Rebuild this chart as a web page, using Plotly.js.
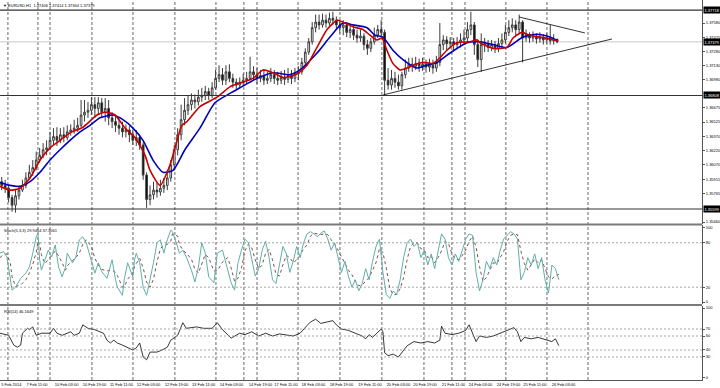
<!DOCTYPE html>
<html><head><meta charset="utf-8">
<script src="https://cdn.plot.ly/plotly-3.0.1.min.js"></script>
<style>html,body{margin:0;padding:0;background:#fff}#c{width:720px;height:388px}</style>
</head><body><div id="c"></div>
<script>
// ---- price candles (2-hour sampling of EURUSD H1) ----
const candleOpen = [1.3589,1.3585,1.3582,1.3572,1.3564,1.3574,1.3580,1.3585,1.3593,1.3599,1.3604,1.3612,1.3617,1.3623,1.3625,1.3633,1.3637,1.3633,1.3639,1.3636,
1.3642,1.3644,1.3646,1.3649,1.3660,1.3663,1.3665,1.3671,1.3667,1.3673,1.3663,1.3667,1.3657,1.3653,1.3649,1.3646,1.3642,1.3644,1.3639,1.3633,
1.3636,1.3628,1.3596,1.3570,1.3575,1.3580,1.3578,1.3582,1.3585,1.3593,1.3607,1.3623,1.3639,1.3655,1.3665,1.3671,1.3676,1.3674,1.3679,1.3681,
1.3685,1.3681,1.3689,1.3699,1.3703,1.3697,1.3706,1.3699,1.3695,1.3692,1.3695,1.3697,1.3699,1.3706,1.3703,1.3699,1.3702,1.3697,1.3699,1.3703,
1.3699,1.3697,1.3700,1.3698,1.3702,1.3699,1.3704,1.3706,1.3716,1.3727,1.3738,1.3753,1.3759,1.3756,1.3761,1.3758,1.3763,1.3761,1.3756,1.3753,
1.3756,1.3748,1.3751,1.3745,1.3742,1.3744,1.3735,1.3731,1.3738,1.3745,1.3751,1.3748,1.3697,1.3692,1.3699,1.3695,1.3691,1.3703,1.3710,1.3714,
1.3712,1.3715,1.3712,1.3714,1.3711,1.3713,1.3710,1.3716,1.3735,1.3740,1.3736,1.3738,1.3735,1.3737,1.3740,1.3742,1.3751,1.3756,1.3735,1.3719,
1.3735,1.3736,1.3732,1.3735,1.3731,1.3736,1.3740,1.3748,1.3753,1.3756,1.3751,1.3759,1.3742,1.3746,1.3742,1.3744,1.3741,1.3743,1.3740,1.3742,
1.3739,1.37406];
const candleHigh = [1.3594,1.3591,1.3585,1.3575,1.3580,1.3585,1.3591,1.3599,1.3607,1.3612,1.3621,1.3625,1.3630,1.3633,1.3642,1.3646,1.3647,1.3646,1.3647,1.3649,
1.3650,1.3655,1.3657,1.3676,1.3676,1.3674,1.3679,1.3679,1.3679,1.3678,1.3678,1.3676,1.3663,1.3660,1.3655,1.3653,1.3650,1.3648,1.3644,1.3644,
1.3639,1.3631,1.3599,1.3585,1.3589,1.3588,1.3591,1.3593,1.3601,1.3612,1.3628,1.3646,1.3671,1.3678,1.3681,1.3683,1.3682,1.3687,1.3689,1.3691,
1.3689,1.3695,1.3708,1.3713,1.3710,1.3713,1.3714,1.3704,1.3699,1.3700,1.3704,1.3706,1.3722,1.3712,1.3710,1.3708,1.3708,1.3706,1.3710,1.3708,
1.3706,1.3707,1.3708,1.3710,1.3708,1.3710,1.3712,1.3721,1.3731,1.3742,1.3759,1.3767,1.3767,1.3768,1.3767,1.3769,1.3770,1.3765,1.3761,1.3761,
1.3759,1.3756,1.3754,1.3751,1.3751,1.3747,1.3740,1.3742,1.3753,1.3756,1.3761,1.3751,1.3710,1.3708,1.3706,1.3703,1.3706,1.3719,1.3721,1.3721,
1.3722,1.3720,1.3721,1.3719,1.3720,1.3719,1.3723,1.3758,1.3745,1.3744,1.3743,1.3742,1.3743,1.3747,1.3751,1.3759,1.3770,1.3759,1.3740,1.3747,
1.3742,1.3740,1.3740,1.3739,1.3742,1.3747,1.3756,1.3761,1.3763,1.3761,1.3767,1.3761,1.3751,1.3748,1.3749,1.3747,1.3748,1.3746,1.3747,1.3756,
1.3746,1.37414];
const candleLow = [1.3580,1.3577,1.3567,1.3557,1.3556,1.3570,1.3578,1.3582,1.3591,1.3595,1.3601,1.3609,1.3614,1.3617,1.3623,1.3628,1.3627,1.3630,1.3631,1.3633,
1.3638,1.3640,1.3642,1.3647,1.3653,1.3657,1.3660,1.3657,1.3660,1.3657,1.3653,1.3649,1.3646,1.3642,1.3639,1.3636,1.3636,1.3631,1.3628,1.3627,
1.3623,1.3591,1.3561,1.3564,1.3570,1.3572,1.3574,1.3577,1.3580,1.3589,1.3601,1.3617,1.3633,1.3649,1.3660,1.3665,1.3667,1.3670,1.3674,1.3676,
1.3676,1.3678,1.3687,1.3695,1.3692,1.3692,1.3695,1.3689,1.3687,1.3689,1.3691,1.3693,1.3697,1.3697,1.3693,1.3695,1.3692,1.3693,1.3695,1.3693,
1.3692,1.3693,1.3692,1.3694,1.3693,1.3695,1.3697,1.3703,1.3713,1.3724,1.3735,1.3748,1.3751,1.3753,1.3753,1.3755,1.3756,1.3751,1.3747,1.3745,
1.3743,1.3742,1.3740,1.3737,1.3738,1.3729,1.3724,1.3727,1.3735,1.3742,1.3744,1.3681,1.3687,1.3687,1.3689,1.3687,1.3687,1.3699,1.3706,1.3706,
1.3708,1.3706,1.3707,1.3705,1.3706,1.3704,1.3706,1.3712,1.3729,1.3729,1.3731,1.3729,1.3730,1.3732,1.3735,1.3738,1.3745,1.3724,1.3711,1.3706,
1.3727,1.3727,1.3728,1.3726,1.3727,1.3731,1.3736,1.3744,1.3748,1.3745,1.3746,1.3716,1.3738,1.3737,1.3738,1.3736,1.3737,1.3735,1.3736,1.3735,
1.3735,1.37364];
const candleClose = [1.3585,1.3582,1.3572,1.3564,1.3574,1.3580,1.3585,1.3593,1.3599,1.3604,1.3612,1.3617,1.3623,1.3625,1.3633,1.3637,1.3633,1.3639,1.3636,1.3642,
1.3644,1.3646,1.3649,1.3660,1.3663,1.3665,1.3671,1.3667,1.3673,1.3663,1.3667,1.3657,1.3653,1.3649,1.3646,1.3642,1.3644,1.3639,1.3633,1.3636,
1.3628,1.3596,1.3570,1.3575,1.3580,1.3578,1.3582,1.3585,1.3593,1.3607,1.3623,1.3639,1.3655,1.3665,1.3671,1.3676,1.3674,1.3679,1.3681,1.3685,
1.3681,1.3689,1.3699,1.3703,1.3697,1.3706,1.3699,1.3695,1.3692,1.3695,1.3697,1.3699,1.3706,1.3703,1.3699,1.3702,1.3697,1.3699,1.3703,1.3699,
1.3697,1.3700,1.3698,1.3702,1.3699,1.3704,1.3706,1.3716,1.3727,1.3738,1.3753,1.3759,1.3756,1.3761,1.3758,1.3763,1.3761,1.3756,1.3753,1.3756,
1.3748,1.3751,1.3745,1.3742,1.3744,1.3735,1.3731,1.3738,1.3745,1.3751,1.3748,1.3697,1.3692,1.3699,1.3695,1.3691,1.3703,1.3710,1.3714,1.3712,
1.3715,1.3712,1.3714,1.3711,1.3713,1.3710,1.3716,1.3735,1.3740,1.3736,1.3738,1.3735,1.3737,1.3740,1.3742,1.3751,1.3756,1.3735,1.3719,1.3735,
1.3736,1.3732,1.3735,1.3731,1.3736,1.3740,1.3748,1.3753,1.3756,1.3751,1.3759,1.3742,1.3746,1.3742,1.3744,1.3741,1.3743,1.3740,1.3742,1.3739,
1.3741,1.37379];

// ---- moving averages (red = fast, blue = slow) ----
const maRedX = [0,5.8,11.6,17.4,23.2,29,34.8,40.6,48.1,56.2,60.9,66.7,72.5,78.3,84.1,87,92.8,98.6,105.5,108.4,115.9,125.8,133.3,139.1,146.7,152.5,158.3,164.1,169.9,173.9,178,183.8,189.6,195.4,198.8,204.6,210.4,214.5,218.6,221.4,224.3,227.8,231.9,235.9,239.4,245.2,251,255.1,259.1,264.9,272.5,276.5,278.3,285.8,293.9,297.4,302.6,307.2,313,318.8,323.5];
const maRedY = [1.3584,1.3580,1.3582,1.3593,1.3612,1.3625,1.3633,1.3641,1.3647,1.3660,1.3663,1.3660,1.3646,1.3636,1.3617,1.3601,1.3585,1.3607,1.3649,1.3653,1.3669,1.3679,1.3690,1.3694,1.3699,1.3708,1.3705,1.3700,1.3702,1.3706,1.3713,1.3732,1.3751,1.3761,1.3759,1.3754,1.3751,1.3745,1.3740,1.3742,1.3729,1.3715,1.3708,1.3710,1.3713,1.3716,1.3715,1.3721,1.3729,1.3737,1.3738,1.3740,1.3737,1.3731,1.3732,1.3742,1.3748,1.3745,1.3743,1.3741,1.3739];
const maBlueX = [0,5.8,11.6,17.4,23.2,29,34.8,40.6,46.4,52.2,58,65.5,71.3,77.1,82.9,88.7,94.5,100.3,107.2,115.9,124.6,133.3,139.1,149,158.3,168.1,173.9,183.8,191.3,198.8,204.6,212.8,217.4,222,227.8,233.6,241.7,247.5,253.3,260.9,270.7,278.3,285.8,293.9,303.2,311.3,318.8,323.5];
const maBlueY = [1.3588,1.3585,1.3584,1.3589,1.3599,1.3612,1.3623,1.3633,1.3642,1.3649,1.3657,1.3660,1.3655,1.3646,1.3633,1.3612,1.3599,1.3601,1.3623,1.3646,1.3673,1.3683,1.3689,1.3699,1.3705,1.3703,1.3708,1.3726,1.3743,1.3758,1.3756,1.3753,1.3745,1.3743,1.3729,1.3719,1.3710,1.3713,1.3716,1.3726,1.3737,1.3738,1.3735,1.3732,1.3743,1.3746,1.3743,1.3739];

// ---- Stochastic (5,3,3) ----
const stochX = [0,2,4,6,7,9,12,15,17,19,21,22,23,24,26,28,30,32,34,36,38,39,42,44,46,48,50,53,55,57,59,62,65,67,68,71,72,74,77,78,79,81,83,85,87,89,91,93,95,97,99,100,103,104,106,108,111,113,115,117,119,121,124,126,129,132,134,136,138,
140,142,144,146,148,150,152,154,156,158,160,162,164,166,168,170,172,174,176,178,180,182,184,186,188,190,192,194,196,198,200,202,204,206,208,210,212,214,216,218,220,222,224,226,228,230,232,234,236,238,240,242,244,246,248,250,252,254,256,258,260,262,264,266,268,270,272,274,276,278,280,282,284,286,288,290,292,294,296,298,300,302,304,306,308,310,312,314,316,318,320,322,324];
const stochMain = [66,68,61,26,16,20,32,39,47,66,88,93,57,43,57,70,61,77,47,34,47,66,53,61,84,88,80,57,39,53,41,32,57,30,20,9,30,53,34,57,66,53,20,9,30,53,80,84,66,84,97,95,74,66,70,61,43,27,47,80,66,34,26,66,70,43,26,16,53,
70,85,80,55,35,45,70,82,60,30,25,50,75,65,40,55,75,60,80,92,95,92,88,93,96,85,70,80,60,40,55,35,20,30,15,25,45,30,55,75,85,40,10,5,15,10,30,60,80,85,75,80,60,70,50,65,45,70,92,85,60,50,65,55,70,85,92,90,40,15,30,55,45,60,50,70,85,90,95,92,85,30,40,60,50,65,45,60,30,12,50,45,29.95];
const stochSignal = [60,64,65,52,34,21,23,30,39,51,67,82,79,64,52,57,63,69,62,53,43,49,55,60,66,78,84,75,59,50,44,42,43,40,36,20,20,31,39,48,52,59,46,27,20,31,54,72,77,78,82,92,89,78,70,66,58,44,39,51,64,60,42,42,54,60,46,28,32,
46,69,78,73,57,45,50,66,71,57,38,35,50,63,60,53,57,63,72,77,89,93,92,91,92,91,84,78,70,60,52,43,37,28,22,23,28,33,43,53,72,67,45,18,10,10,18,33,57,75,80,80,72,70,60,62,53,60,69,82,79,65,58,57,63,70,82,89,74,48,28,33,43,53,52,60,68,82,90,92,91,69,52,43,50,58,53,57,45,34,31,36,37.31];

// ---- RSI(14) ----
const rsiX = [0,5,8,10,12,13,16,17,19,21,24,29,31,33,36,39,41,43,46,48,51,55,58,60,62,64,66,68,71,74,77,79,81,83,85,87,91,94,97,99,103,106,108,114,118,123,126,129,132,134,139,
142,146,150,154,158,162,166,170,174,176,178,180,183,186,190,193,195,198,202,206,210,212,214,216,219,221,222,223,225,228,231,233,236,240,244,248,252,255,256,258,262,266,270,272,274,276,278,282,286,290,294,298,300,302,304,308,312,316,320,322,324];
const rsiVals = [64,61,47,44,47,64,71,69,73,61,64,64,71,64,61,64,66,61,64,76,71,69,66,64,54,50,54,50,47,43,40,43,50,30,26,37,37,40,44,54,61,79,71,73,71,71,79,69,61,57,64,
62,66,60,64,60,63,62,60,64,70,75,80,84,78,80,82,76,70,68,64,60,56,62,58,66,70,66,36,32,34,30,36,46,52,50,52,50,54,74,64,62,64,68,76,64,52,60,58,60,64,68,72,66,52,58,56,58,55,52,56,46.16];

// ---- axes, levels, drawn objects ----
const timeTickBars = [6.6,21.4,38.6,54.8,70.4,86.1,102.3,118,134.2,151,165.8,181.7,198,214.5,231,246.4,262.9,278.6,294.8,310.1,326.7];
const timeTickText = ['5 Feb 2014','7 Feb 11:00','10 Feb 03:00','10 Feb 19:00','11 Feb 11:00','12 Feb 03:00','12 Feb 19:00','13 Feb 11:00','14 Feb 03:00','14 Feb 19:00','17 Feb 11:00','18 Feb 03:00','18 Feb 19:00','19 Feb 11:00','20 Feb 03:00','20 Feb 19:00','21 Feb 11:00','24 Feb 03:00','24 Feb 19:00','25 Feb 11:00','26 Feb 03:00'];
const separatorBars = [4.6,22.0,29.0,53.3,77.1,101.4,125.2,141.4,149.0,172.8,197.1,221.4,245.8,262.0,269.6,293.3,317.1,340.9];
const priceTickVals = [1.37580,1.37425,1.37280,1.37130,1.36980,1.36675,1.36525,1.36370,1.36220,1.36070,1.35915,1.35765,1.35460];
const hLinePrices = [1.37718,1.36808,1.35599];
const bidPrice = 1.37379;
const stochLevels = [80,20];
const stochTicks = [100,80,20,0];
const rsiLevels = [70,60,40,30];
const rsiTicks = [100,70,60,40,30,0];
const trendLower = {x:[222,354.8], y:[1.36813,1.37410]};
const trendUpper = {x:[300.9,339.1], y:[1.37644,1.37474]};
const header = {symbol:'EURUSD,H1', ohlc:[1.37406,1.37414,1.37364,1.37379]};
const stochLabel = 'Stoch(5,3,3) 29.9464 37.3061';
const rsiLabel = 'RSI(14) 46.1649';

const candleX = candleClose.map((_, j) => 2 * j + 1);
const F = 'Liberation Sans, Arial, sans-serif';
const FS = 4;

const traces = [
  {type:'candlestick', x:candleX, open:candleOpen, high:candleHigh, low:candleLow, close:candleClose,
   xaxis:'x', yaxis:'y', whiskerwidth:0,
   increasing:{line:{color:'#3c3c3c', width:1}, fillcolor:'#ffffff'},
   decreasing:{line:{color:'#3c3c3c', width:1}, fillcolor:'#000000'},
   hoverinfo:'skip', showlegend:false},
  {type:'scatter', mode:'lines', x:maBlueX, y:maBlueY, xaxis:'x', yaxis:'y', line:{color:'#0000b4', width:1.6, shape:'spline', smoothing:0.6}, hoverinfo:'skip', showlegend:false},
  {type:'scatter', mode:'lines', x:maRedX, y:maRedY, xaxis:'x', yaxis:'y', line:{color:'#c80000', width:1.6, shape:'spline', smoothing:0.6}, hoverinfo:'skip', showlegend:false},
  {type:'scatter', mode:'lines', x:trendLower.x, y:trendLower.y, xaxis:'x', yaxis:'y', line:{color:'#000', width:0.8}, hoverinfo:'skip', showlegend:false},
  {type:'scatter', mode:'lines', x:trendUpper.x, y:trendUpper.y, xaxis:'x', yaxis:'y', line:{color:'#000', width:0.8}, hoverinfo:'skip', showlegend:false},
  {type:'scatter', mode:'lines', x:stochX, y:stochSignal, xaxis:'x', yaxis:'y2', line:{color:'#8c4a4a', width:1, dash:'dot'}, hoverinfo:'skip', showlegend:false},
  {type:'scatter', mode:'lines', x:stochX, y:stochMain, xaxis:'x', yaxis:'y2', line:{color:'#5fb0a8', width:1}, hoverinfo:'skip', showlegend:false},
  {type:'scatter', mode:'lines', x:rsiX, y:rsiVals, xaxis:'x', yaxis:'y3', line:{color:'#202020', width:0.9}, hoverinfo:'skip', showlegend:false}
];

const shapes = [];
separatorBars.forEach(b => shapes.push({type:'line', xref:'x', yref:'paper', x0:b, x1:b, y0:0, y1:1, line:{color:'#444', width:0.8, dash:'3px,2px'}, layer:'below'}));
hLinePrices.forEach(p => shapes.push({type:'line', xref:'paper', yref:'y', x0:0, x1:1, y0:p, y1:p, line:{color:'#333', width:1.2}}));
shapes.push({type:'line', xref:'paper', yref:'y', x0:0, x1:1, y0:bidPrice, y1:bidPrice, line:{color:'#c8c8c8', width:1}, layer:'below'});
stochLevels.forEach(v => shapes.push({type:'line', xref:'paper', yref:'y2', x0:0, x1:1, y0:v, y1:v, line:{color:'#909090', width:0.8, dash:'2px,2px'}}));
rsiLevels.forEach(v => shapes.push({type:'line', xref:'paper', yref:'y3', x0:0, x1:1, y0:v, y1:v, line:{color:'#909090', width:0.8, dash:'2px,2px'}}));
// panel separators
[0.4092, 0.1974].forEach(y => shapes.push({type:'line', xref:'paper', yref:'paper', x0:0, x1:1, y0:y, y1:y, line:{color:'#7a7a7a', width:2.2}}));

const annotations = [];
const boxFont = {family:F, size:FS, color:'#fff'};
hLinePrices.concat([bidPrice]).forEach(p => annotations.push({xref:'paper', yref:'y', x:1, y:p, xanchor:'left', yanchor:'middle', xshift:1, text:p.toFixed(5), showarrow:false, bgcolor:'#000', font:boxFont, borderpad:0.5}));
annotations.push({xref:'paper', yref:'paper', x:0, y:1, xanchor:'left', yanchor:'top', xshift:1, yshift:-1, showarrow:false,
  text:'\u25BC ' + header.symbol + '  ' + header.ohlc.map(v => v.toFixed(5)).join(' '), font:{family:F, size:FS, color:'#000'}});
annotations.push({xref:'paper', yref:'paper', x:0, y:0.4040, xanchor:'left', yanchor:'top', xshift:2, showarrow:false, text:stochLabel, font:{family:F, size:FS, color:'#000'}});
annotations.push({xref:'paper', yref:'paper', x:0, y:0.1925, xanchor:'left', yanchor:'top', xshift:2, showarrow:false, text:rsiLabel, font:{family:F, size:FS, color:'#000'}});

const yBase = {side:'right', showgrid:false, zeroline:false, showline:true, linecolor:'#555', linewidth:1, ticks:'outside', ticklen:2, tickcolor:'#555', tickfont:{family:F, size:FS, color:'#000'}, fixedrange:true};

const layout = {
  width:720, height:388, margin:{l:0, r:18, t:0, b:8},
  paper_bgcolor:'#fff', plot_bgcolor:'#fff', showlegend:false,
  xaxis:{range:[0,407], anchor:'y3', showgrid:false, zeroline:false, showline:true, linecolor:'#555', tickvals:timeTickBars, ticktext:timeTickText, ticks:'', tickangle:0, ticklabeloverflow:'allow', tickfont:{family:F, size:FS, color:'#000'}, rangeslider:{visible:false}, fixedrange:true},
  yaxis:Object.assign({}, yBase, {domain:[0.41053,1], range:[1.35439,1.37825], tickvals:priceTickVals, ticktext:priceTickVals.map(v => v.toFixed(5))}),
  yaxis2:Object.assign({}, yBase, {domain:[0.2,0.40789], range:[-2.7,104], tickvals:stochTicks, ticktext:stochTicks.map(String)}),
  yaxis3:Object.assign({}, yBase, {domain:[0,0.19474], range:[-2.9,102.9], tickvals:rsiTicks, ticktext:rsiTicks.map(String)}),
  shapes:shapes, annotations:annotations
};

Plotly.newPlot('c', traces, layout, {staticPlot:true, displayModeBar:false});
</script></body></html>
